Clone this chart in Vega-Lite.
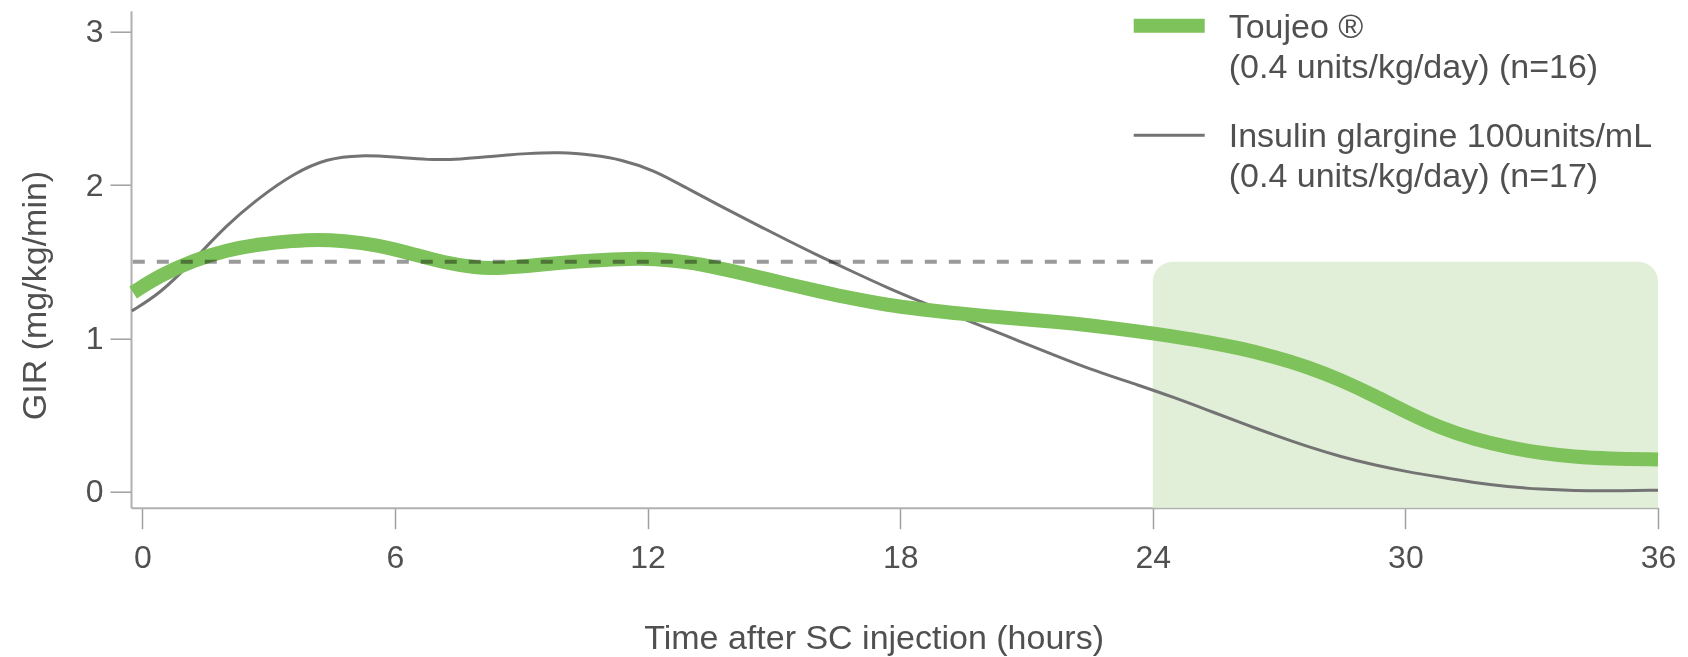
{
  "$schema": "https://vega.github.io/schema/vega-lite/v6.json",
  "width": 1527,
  "height": 497,
  "autosize": {"type": "none"},
  "padding": {"left": 131, "top": 10.7, "right": 30, "bottom": 149.3},
  "background": "white",
  "config": {
    "view": {"stroke": null},
    "font": "Liberation Sans",
    "axis": {
      "grid": false,
      "domainColor": "#b0b0b0",
      "domainWidth": 2,
      "tickColor": "#a0a0a0",
      "tickWidth": 1.5,
      "tickSize": 21,
      "labelFont": "Liberation Sans",
      "labelFontSize": 32,
      "labelColor": "#505050",
      "titleFont": "Liberation Sans",
      "titleFontWeight": "normal",
      "titleColor": "#505050"
    }
  },
  "datasets": {
    "curves": [
      {"series": "Insulin", "hour": -0.25, "gir": 1.18},
      {"series": "Insulin", "hour": 0.43, "gir": 1.294},
      {"series": "Insulin", "hour": 1.22, "gir": 1.51},
      {"series": "Insulin", "hour": 2.0, "gir": 1.74},
      {"series": "Insulin", "hour": 2.8, "gir": 1.924},
      {"series": "Insulin", "hour": 3.6, "gir": 2.077},
      {"series": "Insulin", "hour": 4.39, "gir": 2.175},
      {"series": "Insulin", "hour": 5.18, "gir": 2.196},
      {"series": "Insulin", "hour": 5.97, "gir": 2.185},
      {"series": "Insulin", "hour": 6.77, "gir": 2.164},
      {"series": "Insulin", "hour": 7.56, "gir": 2.168},
      {"series": "Insulin", "hour": 8.35, "gir": 2.19},
      {"series": "Insulin", "hour": 9.14, "gir": 2.207},
      {"series": "Insulin", "hour": 9.93, "gir": 2.216},
      {"series": "Insulin", "hour": 10.72, "gir": 2.196},
      {"series": "Insulin", "hour": 11.36, "gir": 2.168},
      {"series": "Insulin", "hour": 12.15, "gir": 2.099},
      {"series": "Insulin", "hour": 12.94, "gir": 1.979},
      {"series": "Insulin", "hour": 13.74, "gir": 1.862},
      {"series": "Insulin", "hour": 14.53, "gir": 1.75},
      {"series": "Insulin", "hour": 15.32, "gir": 1.64},
      {"series": "Insulin", "hour": 16.11, "gir": 1.533},
      {"series": "Insulin", "hour": 16.9, "gir": 1.432},
      {"series": "Insulin", "hour": 17.7, "gir": 1.33},
      {"series": "Insulin", "hour": 18.49, "gir": 1.239},
      {"series": "Insulin", "hour": 19.28, "gir": 1.153},
      {"series": "Insulin", "hour": 20.07, "gir": 1.066},
      {"series": "Insulin", "hour": 20.87, "gir": 0.978},
      {"series": "Insulin", "hour": 21.66, "gir": 0.892},
      {"series": "Insulin", "hour": 22.45, "gir": 0.805},
      {"series": "Insulin", "hour": 23.72, "gir": 0.69},
      {"series": "Insulin", "hour": 24.51, "gir": 0.615},
      {"series": "Insulin", "hour": 25.3, "gir": 0.533},
      {"series": "Insulin", "hour": 26.09, "gir": 0.45},
      {"series": "Insulin", "hour": 26.88, "gir": 0.37},
      {"series": "Insulin", "hour": 27.68, "gir": 0.294},
      {"series": "Insulin", "hour": 28.47, "gir": 0.228},
      {"series": "Insulin", "hour": 29.26, "gir": 0.174},
      {"series": "Insulin", "hour": 30.05, "gir": 0.13},
      {"series": "Insulin", "hour": 30.85, "gir": 0.094},
      {"series": "Insulin", "hour": 31.64, "gir": 0.059},
      {"series": "Insulin", "hour": 32.43, "gir": 0.033},
      {"series": "Insulin", "hour": 33.22, "gir": 0.016},
      {"series": "Insulin", "hour": 34.01, "gir": 0.007},
      {"series": "Insulin", "hour": 34.81, "gir": 0.005},
      {"series": "Insulin", "hour": 36.0, "gir": 0.01},
      {"series": "Toujeo", "hour": -0.22, "gir": 1.3},
      {"series": "Toujeo", "hour": 0.43, "gir": 1.413},
      {"series": "Toujeo", "hour": 1.22, "gir": 1.51},
      {"series": "Toujeo", "hour": 2.0, "gir": 1.577},
      {"series": "Toujeo", "hour": 2.8, "gir": 1.616},
      {"series": "Toujeo", "hour": 3.6, "gir": 1.637},
      {"series": "Toujeo", "hour": 4.15, "gir": 1.646},
      {"series": "Toujeo", "hour": 4.78, "gir": 1.637},
      {"series": "Toujeo", "hour": 5.58, "gir": 1.61},
      {"series": "Toujeo", "hour": 6.37, "gir": 1.555},
      {"series": "Toujeo", "hour": 7.16, "gir": 1.494},
      {"series": "Toujeo", "hour": 7.95, "gir": 1.461},
      {"series": "Toujeo", "hour": 8.35, "gir": 1.457},
      {"series": "Toujeo", "hour": 9.14, "gir": 1.472},
      {"series": "Toujeo", "hour": 9.93, "gir": 1.494},
      {"series": "Toujeo", "hour": 10.72, "gir": 1.51},
      {"series": "Toujeo", "hour": 11.6, "gir": 1.52},
      {"series": "Toujeo", "hour": 12.15, "gir": 1.52},
      {"series": "Toujeo", "hour": 12.94, "gir": 1.5},
      {"series": "Toujeo", "hour": 13.74, "gir": 1.457},
      {"series": "Toujeo", "hour": 14.53, "gir": 1.407},
      {"series": "Toujeo", "hour": 15.32, "gir": 1.355},
      {"series": "Toujeo", "hour": 16.11, "gir": 1.305},
      {"series": "Toujeo", "hour": 16.9, "gir": 1.258},
      {"series": "Toujeo", "hour": 17.7, "gir": 1.218},
      {"series": "Toujeo", "hour": 18.49, "gir": 1.19},
      {"series": "Toujeo", "hour": 19.28, "gir": 1.166},
      {"series": "Toujeo", "hour": 20.07, "gir": 1.145},
      {"series": "Toujeo", "hour": 20.87, "gir": 1.127},
      {"series": "Toujeo", "hour": 21.66, "gir": 1.109},
      {"series": "Toujeo", "hour": 22.45, "gir": 1.088},
      {"series": "Toujeo", "hour": 23.72, "gir": 1.044},
      {"series": "Toujeo", "hour": 24.51, "gir": 1.013},
      {"series": "Toujeo", "hour": 25.3, "gir": 0.978},
      {"series": "Toujeo", "hour": 26.09, "gir": 0.935},
      {"series": "Toujeo", "hour": 26.88, "gir": 0.881},
      {"series": "Toujeo", "hour": 27.68, "gir": 0.815},
      {"series": "Toujeo", "hour": 28.47, "gir": 0.729},
      {"series": "Toujeo", "hour": 29.26, "gir": 0.627},
      {"series": "Toujeo", "hour": 30.05, "gir": 0.515},
      {"series": "Toujeo", "hour": 30.85, "gir": 0.414},
      {"series": "Toujeo", "hour": 31.64, "gir": 0.342},
      {"series": "Toujeo", "hour": 32.43, "gir": 0.29},
      {"series": "Toujeo", "hour": 33.22, "gir": 0.252},
      {"series": "Toujeo", "hour": 34.01, "gir": 0.228},
      {"series": "Toujeo", "hour": 34.81, "gir": 0.216},
      {"series": "Toujeo", "hour": 36.0, "gir": 0.211}
    ],
    "window": [{"start": 24, "end": 36, "top": 1.5}],
    "target": [{"level": 1.5, "until": 24}]
  },
  "layer": [
    {
      "data": {"name": "window"},
      "mark": {"type": "rect", "color": "#e2efd8", "cornerRadiusTopLeft": 20, "cornerRadiusTopRight": 20},
      "encoding": {
        "x": {"field": "start", "type": "quantitative", "scale": {"domain": [-0.27, 36], "nice": false, "zero": false}},
        "x2": {"field": "end"},
        "y": {"field": "top", "type": "quantitative", "scale": {"domain": [-0.104, 3.138], "nice": false, "zero": false}},
        "y2": {"value": {"expr": "height"}}
      }
    },
    {
      "data": {"name": "curves"},
      "mark": {"type": "line", "interpolate": "basis", "strokeCap": "butt", "strokeJoin": "round"},
      "encoding": {
        "x": {
          "field": "hour", "type": "quantitative",
          "scale": {"domain": [-0.27, 36], "nice": false, "zero": false},
          "axis": {
            "values": [0, 6, 12, 18, 24, 30, 36],
            "title": "Time after SC injection (hours)",
            "titleFontSize": 34,
            "titleX": 742.6,
            "titleY": 140.3,
            "titleBaseline": "alphabetic",
            "titleAlign": "center",
            "titleAnchor": null,
            "labelPadding": 14,
            "labelFlush": false
          }
        },
        "y": {
          "field": "gir", "type": "quantitative",
          "scale": {"domain": [-0.104, 3.138], "nice": false, "zero": false},
          "axis": {
            "values": [0, 1, 2, 3],
            "format": "d",
            "title": "GIR (mg/kg/min)",
            "titleFontSize": 34,
            "titleX": -85.3,
            "titleY": 284.3,
            "titleAngle": -90,
            "titleBaseline": "alphabetic",
            "titleAlign": "center",
            "titleAnchor": null,
            "labelPadding": 7,
            "labelFlush": false
          }
        },
        "color": {
          "field": "series", "type": "nominal",
          "scale": {"domain": ["Toujeo", "Insulin"], "range": ["#7dc25a", "#737373"]},
          "legend": {
            "orient": "none",
            "legendX": 995.7,
            "legendY": -27.5,
            "title": null,
            "padding": 0,
            "symbolType": "stroke",
            "symbolSize": 5041,
            "labelFont": "Liberation Sans",
            "labelFontSize": 34,
            "labelColor": "#505050",
            "labelOffset": 17,
            "labelBaseline": "top",
            "labelLimit": 0,
            "rowPadding": 13,
            "labelExpr": "datum.label == 'Toujeo' ? ['Toujeo ®', '(0.4 units/kg/day) (n=16)'] : ['Insulin glargine 100units/mL', '(0.4 units/kg/day) (n=17)']",
            "encode": {"labels": {"update": {"dy": {"value": -15}, "lineHeight": {"value": 40}}}}
          }
        },
        "strokeWidth": {
          "field": "series", "type": "nominal",
          "scale": {"domain": ["Toujeo", "Insulin"], "range": [14, 3]},
          "legend": null
        }
      }
    },
    {
      "data": {"name": "target"},
      "mark": {"type": "rule", "color": "#9a9a9a", "strokeWidth": 4, "strokeDash": [12, 12], "blend": "multiply"},
      "encoding": {
        "x": {"field": "until", "type": "quantitative"},
        "x2": {"value": 0},
        "y": {"field": "level", "type": "quantitative"}
      }
    }
  ]
}
